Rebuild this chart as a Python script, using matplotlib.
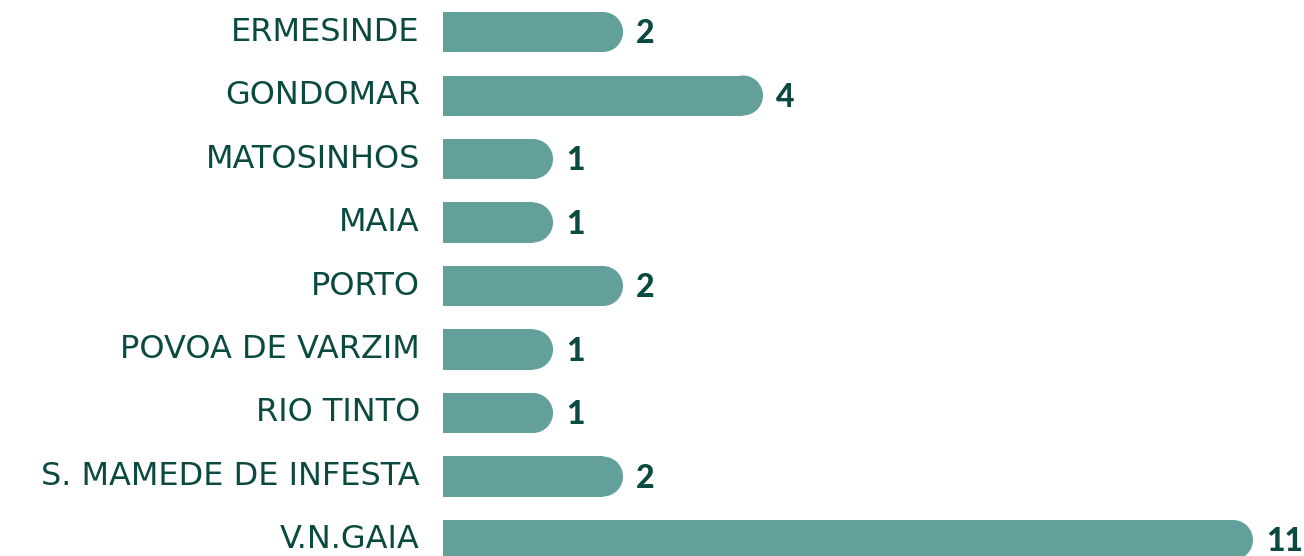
import matplotlib.pyplot as plt
from matplotlib.patches import Ellipse

# data
categories = ["ERMESINDE", "GONDOMAR", "MATOSINHOS", "MAIA", "PORTO",
              "POVOA DE VARZIM", "RIO TINTO", "S. MAMEDE DE INFESTA", "V.N.GAIA"]
counts = [2, 4, 1, 1, 2, 1, 1, 2, 11]

BAR_COLOR = "#63a09b"
TEXT_COLOR = "#0b4a40"
stub = 0.571       # minimum bar length (rounded bars never start at zero length)
bar_h = 0.63
cap_w = 0.571      # width of the rounded cap in data units

fig = plt.figure(figsize=(13.04, 5.56), dpi=100)
ax = fig.add_axes([0, 0, 1, 1])
ax.set_xlim(-6.33, 12.3)
ax.set_ylim(8.252, -0.504)
ax.axis("off")

for i, (name, v) in enumerate(zip(categories, counts)):
    end = stub + v
    ax.barh(i, end - cap_w / 2, height=bar_h, color=BAR_COLOR, linewidth=0)
    ax.add_patch(Ellipse((end - cap_w / 2, i), cap_w, bar_h, color=BAR_COLOR, linewidth=0))
    ax.text(-0.33, i, name, ha="right", va="center", fontsize=23,
            color=TEXT_COLOR, family="DejaVu Sans")
    ax.text(end + 0.19, i + 0.03, str(v), ha="left", va="center", fontsize=23,
            fontweight="black", color=TEXT_COLOR, family="Lato")

fig.savefig("out.png", dpi=100, facecolor="white")
